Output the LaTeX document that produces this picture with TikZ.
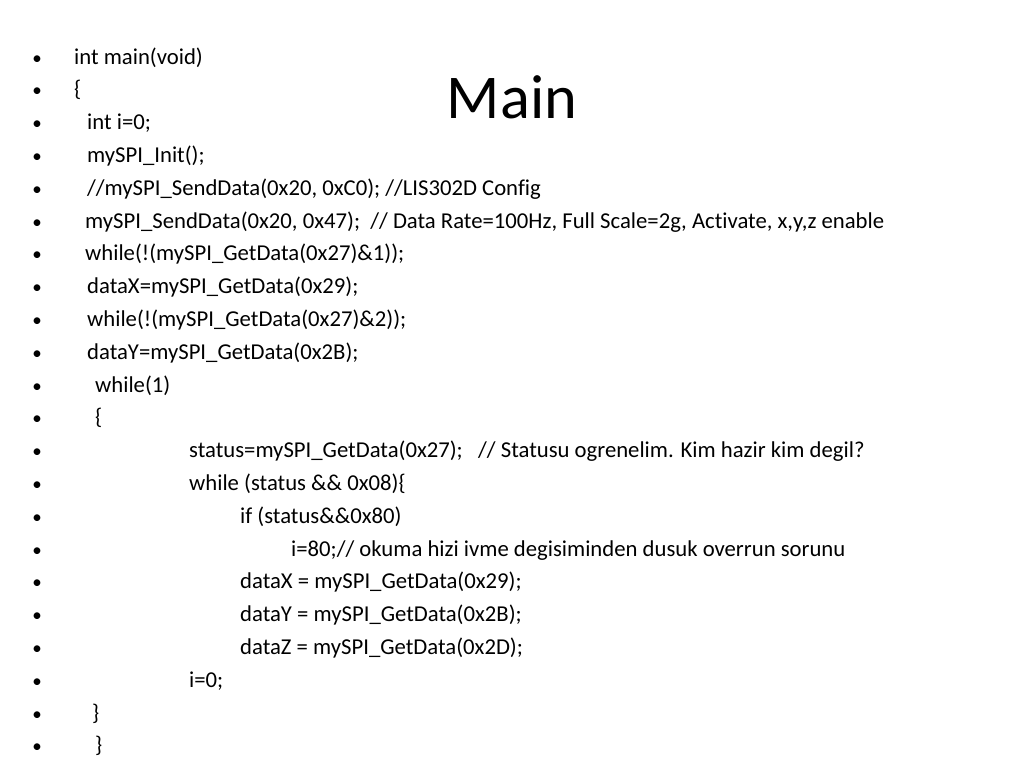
\documentclass[tikz,border=0pt]{standalone}
\usepackage{fontspec}
\setmainfont[Ligatures={NoCommon}]{Carlito}
\begin{document}
\begin{tikzpicture}[x=1pt,y=-1pt,
  code/.style={anchor=base west,inner sep=0pt,font=\fontsize{22.7}{24}\selectfont},
  bul/.style={anchor=base,inner sep=0pt,font=\fontsize{19}{20}\selectfont},
  ttl/.style={anchor=base,inner sep=0pt,font=\fontsize{62.3}{66}\selectfont}]
\useasboundingbox[fill=white] (0,0) rectangle (1024,768);
\node[ttl] (title) at (512,118) {Main};
\foreach \k in {0,...,21}{
  \node[bul] (b\k) at (37,{64+32.8*\k}) {•};
}
\node[code] (l0) at (74,64) {int main(void)};
\node[code] (l1) at (74,96.8) {\{};
\node[code] (l2) at (87,129.6) {int i=0;};
\node[code] (l3) at (87,162.4) {mySPI\_Init();};
\node[code] (l4) at (87,195.2) {//mySPI\_SendData(0x20, 0xC0); //LIS302D Config};
\node[code] (l5) at (85,228) {mySPI\_SendData(0x20, 0x47);\ \ // Data Rate=100Hz, Full Scale=2g, Activate, x,y,z enable};
\node[code] (l6) at (85,260.8) {while(!(mySPI\_GetData(0x27)\&1));};
\node[code] (l7) at (87,293.6) {dataX=mySPI\_GetData(0x29);};
\node[code] (l8) at (87,326.4) {while(!(mySPI\_GetData(0x27)\&2));};
\node[code] (l9) at (87,359.2) {dataY=mySPI\_GetData(0x2B);};
\node[code] (l10) at (95,392) {while(1)};
\node[code] (l11) at (95,424.8) {\{};
\node[code] (l12) at (189,457.6) {status=mySPI\_GetData(0x27);\ \ \ // Statusu ogrenelim. Kim hazir kim degil?};
\node[code] (l13) at (189,490.4) {while (status \&\& 0x08)\{};
\node[code] (l14) at (240,523.2) {if (status\&\&0x80)};
\node[code] (l15) at (291,556) {i=80;// okuma hizi ivme degisiminden dusuk overrun sorunu};
\node[code] (l16) at (240,588.8) {dataX = mySPI\_GetData(0x29);};
\node[code] (l17) at (240,621.6) {dataY = mySPI\_GetData(0x2B);};
\node[code] (l18) at (240,654.4) {dataZ = mySPI\_GetData(0x2D);};
\node[code] (l19) at (189,687.2) {i=0;};
\node[code] (l20) at (92,720) {\}};
\node[code] (l21) at (95,752.8) {\}};
\end{tikzpicture}
\end{document}
